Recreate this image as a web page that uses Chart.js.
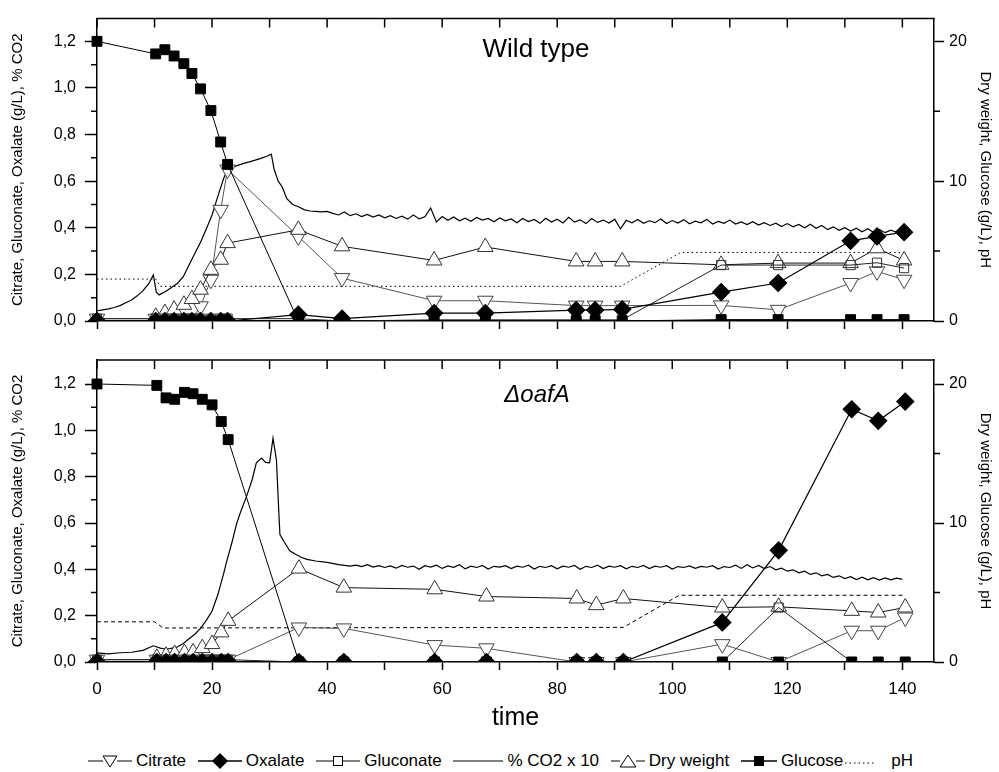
<!DOCTYPE html>
<html>
<head>
<meta charset="utf-8">
<script src="https://cdn.jsdelivr.net/npm/chart.js@4.4.1/dist/chart.umd.min.js"></script>
<style>
  body{margin:0;background:#fff;width:999px;height:772px;overflow:hidden;position:relative;
    font-family:"Liberation Sans",Arial,sans-serif;color:#000}
  #topChart{position:absolute;left:0;top:0}
  #botChart{position:absolute;left:0;top:340px}
  #legend{position:absolute;left:88px;width:825px;top:751px;height:20px;display:flex;
    justify-content:space-between;align-items:center;font-size:17px;white-space:nowrap}
  #legend span{display:flex;align-items:center}
  #legend svg{display:block;margin-right:4px}
</style>
</head>
<body>
<canvas id="topChart" width="999" height="340"></canvas>
<canvas id="botChart" width="999" height="405"></canvas>

<div id="legend">
  <span><svg width="44" height="18"><path d="M0 9H15M29 9H44" stroke="#000"/><path d="M15 4H29L22 15Z" fill="#fff" stroke="#000"/></svg>Citrate</span>
  <span><svg width="44" height="18"><path d="M0 9H44" stroke="#000" stroke-width="1.5"/><path d="M22 1L30 9L22 17L14 9Z" fill="#000"/></svg>Oxalate</span>
  <span><svg width="44" height="18"><path d="M0 9H17M27 9H44" stroke="#000"/><rect x="17.5" y="4.5" width="9" height="9" fill="#fff" stroke="#000"/></svg>Gluconate</span>
  <span><svg width="50" height="18"><path d="M0 9H50" stroke="#000" stroke-width="1.2"/></svg>% CO2 x 10</span>
  <span><svg width="34" height="18"><path d="M0 9H9M25 9H34" stroke="#000"/><path d="M9 15H25L17 3Z" fill="#fff" stroke="#000"/></svg>Dry weight</span>
  <span><svg width="36" height="18"><path d="M0 9H36" stroke="#000" stroke-width="1.5"/><rect x="13" y="4" width="10" height="10" fill="#000"/></svg>Glucose<svg width="40" height="18" style="margin:0 8px 0 0"><path d="M2 11H32" stroke="#000" stroke-dasharray="1.5 3"/></svg>pH</span>
</div>

<script>
/* ---- tick labels ---- */
const timeTicks = [0, 10, 20, 30, 40, 50, 60, 70, 80, 90, 100, 110, 120, 130, 140];
const leftTicks = [0, 0.2, 0.4, 0.6, 0.8, 1.0, 1.2];
const leftMinor = [0.1, 0.3, 0.5, 0.7, 0.9, 1.1];
const rightTicks = [0, 10, 20];
const rightMinor = [5, 15];

/* ---- Wild type (top) : sampling times in h ---- */
const wtTime = [0, 10.2, 11.8, 13.4, 15.1, 16.5, 18.0, 19.8, 21.5, 22.7, 35.0, 42.6, 58.6, 67.5, 83.3, 86.6, 91.3, 108.5, 118.4, 131.0, 135.6, 140.3];
const wtCitrate = [0.01, 0.01, 0.01, 0.01, 0.01, 0.01, 0.063, 0.177, 0.477, 0.65, 0.363, 0.184, 0.087, 0.087, 0.066, 0.066, 0.066, 0.067, 0.048, 0.163, 0.213, 0.177];
const wtOxalate = [0, 0, 0, 0, 0, 0, 0, 0, 0, 0, 0.027, 0.01, 0.034, 0.034, 0.047, 0.047, 0.05, 0.124, 0.163, 0.344, 0.363, 0.381];
const wtGluconate = [0.01, 0.01, 0.01, 0.01, 0.01, 0.01, 0.01, 0.01, 0.01, 0.01, 0.01, 0, 0.005, 0.005, 0.005, 0.005, 0.005, 0.24, 0.24, 0.24, 0.25, 0.227];
const wtDryWeight = [null, 0.3, 0.57, 0.81, 1.16, 1.57, 2.24, 3.66, 4.38, 5.57, 6.52, 5.34, 4.33, 5.29, 4.26, 4.26, 4.26, 4.02, 4.14, 4.14, 5.2, 4.33];
const wtGlucose = [20.0, 19.1, 19.4, 18.95, 18.4, 17.7, 16.6, 15.05, 12.8, 11.2, 0, 0, 0, 0, 0, 0, 0, 0.1, 0.1, 0.1, 0.1, 0.1];
const wtPhTime = [0, 10.2, 11.0, 91.0, 101.5, 140.3];
const wtPh = [3.0, 3.0, 2.48, 2.48, 4.9, 4.9];

// % CO2 x 10, online signal
const wtCo2EarlyTime = [0, 1, 2, 3, 4, 5, 6, 7, 8, 9, 9.8, 10.3, 10.8, 12, 13, 14, 15, 16, 17, 18, 19, 20, 21, 22, 22.7, 23.5, 24.5, 25.5, 26.5, 27.5, 28.5, 29.5, 30.3, 30.8, 31.5, 32.2, 33, 34, 35, 36, 37, 38, 39, 40];
const wtCo2Early = [0.044, 0.048, 0.052, 0.058, 0.066, 0.078, 0.09, 0.108, 0.13, 0.16, 0.198, 0.125, 0.112, 0.128, 0.145, 0.162, 0.19, 0.24, 0.29, 0.338, 0.395, 0.455, 0.535, 0.61, 0.65, 0.66, 0.668, 0.676, 0.683, 0.69, 0.698, 0.707, 0.716, 0.65, 0.6, 0.575, 0.525, 0.5, 0.49, 0.478, 0.472, 0.47, 0.468, 0.47];
const wtCo2LateStart = 41;   // one reading per hour from here
const wtCo2Late = [
  0.462, 0.455, 0.468, 0.452, 0.460, 0.448, 0.457, 0.446, 0.455, 0.443,
  0.452, 0.440, 0.450, 0.437, 0.455, 0.438, 0.447, 0.485, 0.425, 0.448,
  0.432, 0.446, 0.430, 0.441, 0.428, 0.444, 0.433, 0.440, 0.426, 0.442,
  0.430, 0.438, 0.422, 0.440, 0.427, 0.436, 0.419, 0.441, 0.425, 0.437,
  0.421, 0.445, 0.424, 0.434, 0.418, 0.440, 0.423, 0.433, 0.420, 0.437,
  0.395, 0.432, 0.421, 0.436, 0.419, 0.430, 0.422, 0.438, 0.418, 0.431,
  0.420, 0.435, 0.417, 0.428, 0.421, 0.436, 0.416, 0.427, 0.419, 0.433,
  0.416, 0.425, 0.414, 0.426, 0.412, 0.422, 0.410, 0.420, 0.405, 0.418,
  0.404, 0.414, 0.400, 0.415, 0.398, 0.410, 0.392, 0.404, 0.389, 0.400,
  0.386, 0.398, 0.383, 0.396, 0.380, 0.393, 0.379, 0.390, 0.381, 0.385
];

/* ---- delta oafA (bottom) ---- */
const koTime = [0, 10.4, 12.0, 13.5, 15.2, 16.7, 18.3, 20.0, 21.6, 22.8, 35.1, 42.9, 58.7, 67.7, 83.4, 86.8, 91.5, 108.7, 118.5, 131.2, 135.8, 140.5];
const koCitrate = [0.01, 0.01, 0.01, 0.01, 0.01, 0.01, 0.01, 0.01, 0.01, 0.01, 0.149, 0.145, 0.073, 0.059, 0, 0, 0, 0.077, 0, 0.135, 0.135, 0.192];
const koOxalate = [0, 0, 0, 0, 0, 0, 0, 0, 0, 0, 0, 0, 0, 0, 0, 0, 0, 0.171, 0.482, 1.091, 1.041, 1.124];
const koGluconate = [0.01, 0.01, 0.01, 0.01, 0.01, 0.01, 0.01, 0.01, 0.01, 0.01, 0, 0, 0, 0, 0, 0, 0, 0, 0.235, 0, 0, 0];
const koDryWeight = [null, 0.3, 0.45, 0.57, 0.65, 0.69, 1.0, 1.29, 2.13, 2.96, 6.72, 5.35, 5.23, 4.71, 4.57, 4.09, 4.57, 3.92, 3.97, 3.68, 3.56, 3.92];
const koGlucose = [20.0, 19.9, 19.0, 18.9, 19.4, 19.3, 18.9, 18.5, 17.3, 16.0, 0, 0, 0, 0, 0, 0, 0, 0, 0, 0, 0, 0];
const koPhTime = [0, 10.0, 11.5, 91.5, 101.2, 140.3];
const koPh = [2.89, 2.89, 2.45, 2.49, 4.8, 4.8];

const koCo2EarlyTime = [0, 2, 4, 6, 8, 9.8, 11, 12, 13.8, 15, 16, 17, 18, 19, 20, 21, 22, 22.5, 23.5, 24.3, 25, 26, 27, 27.7, 28.6, 29.3, 30, 30.6, 31.2, 31.6, 31.8, 32.5, 33.5, 34.5, 35.5, 36.5, 38, 40, 42, 44];
const koCo2Early = [0.039, 0.035, 0.04, 0.042, 0.05, 0.07, 0.06, 0.055, 0.063, 0.08, 0.1, 0.12, 0.145, 0.18, 0.22, 0.29, 0.38, 0.43, 0.52, 0.6, 0.65, 0.715, 0.79, 0.86, 0.88, 0.862, 0.86, 0.966, 0.87, 0.65, 0.55, 0.52, 0.48, 0.465, 0.452, 0.443, 0.436, 0.43, 0.42, 0.414];
const koCo2LateStart = 45;
const koCo2Late = [
  0.418, 0.412, 0.420, 0.410, 0.416, 0.408, 0.415, 0.405, 0.417, 0.409,
  0.414, 0.400, 0.416, 0.410, 0.418, 0.404, 0.415, 0.409, 0.420, 0.402,
  0.414, 0.408, 0.417, 0.401, 0.413, 0.410, 0.416, 0.403, 0.414, 0.409,
  0.418, 0.401, 0.413, 0.408, 0.416, 0.402, 0.414, 0.409, 0.417, 0.400,
  0.413, 0.408, 0.418, 0.403, 0.414, 0.409, 0.416, 0.402, 0.413, 0.408,
  0.417, 0.403, 0.414, 0.409, 0.416, 0.401, 0.412, 0.408, 0.415, 0.404,
  0.413, 0.409, 0.416, 0.401, 0.412, 0.408, 0.418, 0.404, 0.420, 0.406,
  0.417, 0.403, 0.412, 0.398, 0.405, 0.392, 0.398, 0.385, 0.392, 0.378,
  0.385, 0.372, 0.378, 0.365, 0.372, 0.360, 0.368, 0.356, 0.366, 0.355,
  0.364, 0.354, 0.363, 0.355, 0.362, 0.357
];

/* ---- helpers ---- */
const RIGHT_PER_LEFT = 50 / 3;   // right axis 0..20 sits on left 0..1.2

function pts(xs, ys){
  return xs.map((x, i) => ({x: x, y: ys[i]}));
}

function co2Points(earlyT, earlyV, start, late){
  const out = pts(earlyT, earlyV);
  late.forEach((v, i) => out.push({x: start + i, y: v}));
  return out;
}

Chart.defaults.font.family = '"Liberation Sans", Arial, sans-serif';
Chart.defaults.color = '#000';

const framePlugin = {
  id: 'frame',
  afterDraw(chart, args, opts){
    const {ctx, chartArea: a, scales} = chart;
    ctx.save();
    ctx.strokeStyle = '#000';
    ctx.lineWidth = 1.5;
    ctx.beginPath();
    ctx.moveTo(a.left - 0.75, a.top);
    ctx.lineTo(a.right + 0.75, a.top);
    timeTicks.forEach(v => {
      const px = scales.x.getPixelForValue(v);
      ctx.moveTo(px, a.top);
      ctx.lineTo(px, a.top + 9);
    });
    leftMinor.forEach(v => {
      const py = scales.y.getPixelForValue(v);
      ctx.moveTo(a.left, py);
      ctx.lineTo(a.left - 6, py);
    });
    rightMinor.forEach(v => {
      const py = scales.y1.getPixelForValue(v);
      ctx.moveTo(a.right, py);
      ctx.lineTo(a.right + 6, py);
    });
    ctx.stroke();

    ctx.fillStyle = '#000';
    ctx.font = opts.font;
    ctx.textAlign = 'center';
    ctx.textBaseline = 'middle';
    ctx.fillText(opts.text, opts.x, opts.y);
    ctx.restore();
  }
};

function makePanel(id, d){

  const pointClip = {left: 12, top: 12, right: 12, bottom: 0};

  return new Chart(document.getElementById(id), {

    type: 'line',

    data: {
      datasets: [
        {label: 'Oxalate', data: pts(d.time, d.oxalate), yAxisID: 'y',
          borderColor: '#000', borderWidth: 1.2,
          pointStyle: 'rectRot', pointRadius: 8.5,
          pointBackgroundColor: '#000', pointBorderColor: '#000', clip: pointClip},
        {label: 'Glucose', data: pts(d.time, d.glucose), yAxisID: 'y1',
          borderColor: '#000', borderWidth: 1,
          pointStyle: 'rect', pointRadius: 7,
          pointBackgroundColor: '#000', pointBorderColor: '#000', clip: pointClip},
        {label: 'Gluconate', data: pts(d.time, d.gluconate), yAxisID: 'y',
          borderColor: '#222', borderWidth: 1,
          pointStyle: 'rect', pointRadius: 6.5, pointBorderWidth: 1,
          pointBackgroundColor: 'rgba(255,255,255,0)', pointBorderColor: '#333', clip: pointClip},
        {label: 'Dry weight', data: pts(d.time, d.dry), yAxisID: 'y1',
          borderColor: '#111', borderWidth: 1,
          pointStyle: 'triangle', pointRadius: 9, pointBorderWidth: 1,
          pointBackgroundColor: '#fff', pointBorderColor: '#333', clip: pointClip},
        {label: 'Citrate', data: pts(d.time, d.citrate), yAxisID: 'y',
          borderColor: '#555', borderWidth: 1,
          pointStyle: 'triangle', pointRotation: 180, pointRadius: 9, pointBorderWidth: 1,
          pointBackgroundColor: '#fff', pointBorderColor: '#444', clip: pointClip},
        {label: '% CO2 x 10', data: d.co2, yAxisID: 'y',
          borderColor: '#000', borderWidth: 1.2, pointRadius: 0},
        {label: 'pH', data: pts(d.phTime, d.ph), yAxisID: 'y1',
          borderColor: '#000', borderWidth: 1, borderDash: d.phDash, pointRadius: 0}
      ]
    },

    options: {
      responsive: false,
      animation: false,
      events: [],
      layout: {padding: {top: d.padTop, left: 0, right: 0, bottom: 0}},
      elements: {line: {tension: 0}},
      plugins: {
        legend: {display: false},
        tooltip: {enabled: false},
        frame: {text: d.title, font: d.titleFont, x: d.titleX, y: d.titleY}
      },
      scales: {
        x: {
          type: 'linear', min: 0, max: 145.5,
          afterBuildTicks: s => { s.ticks = timeTicks.map(v => ({value: v})); },
          afterFit: s => { s.height = d.xHeight; },
          ticks: {
            display: d.showTime, autoSkip: false, maxRotation: 0, padding: 9,
            font: {size: 17},
            callback: v => (v % 20 === 0 ? String(v) : '')
          },
          grid: {drawOnChartArea: false, drawTicks: true, tickLength: 8, tickWidth: 1.5, tickColor: '#000'},
          border: {display: true, color: '#000', width: 1.5},
          title: {display: d.showTime, text: 'time', font: {size: 25}, padding: {top: 0, bottom: 12}}
        },
        y: {
          position: 'left', min: d.yMin, max: d.yMax,
          afterBuildTicks: s => { s.ticks = leftTicks.map(v => ({value: v})); },
          afterFit: s => { s.width = 97; },
          ticks: {
            font: {size: 16}, padding: 9,
            callback: v => v.toFixed(1).replace('.', ',')
          },
          grid: {drawOnChartArea: false, drawTicks: true, tickLength: 12, tickWidth: 1.5, tickColor: '#000'},
          border: {display: true, color: '#000', width: 1.5},
          title: {display: true, text: 'Citrate, Gluconate, Oxalate (g/L), % CO2',
            font: {size: 15}, padding: {top: 9, bottom: 0}}
        },
        y1: {
          position: 'right', min: d.yMin * RIGHT_PER_LEFT, max: d.yMax * RIGHT_PER_LEFT,
          afterBuildTicks: s => { s.ticks = rightTicks.map(v => ({value: v})); },
          afterFit: s => { s.width = 65; },
          ticks: {font: {size: 16}, padding: 5},
          grid: {drawOnChartArea: false, drawTicks: true, tickLength: 10, tickWidth: 1.5, tickColor: '#000'},
          border: {display: true, color: '#000', width: 1.5},
          title: {display: true, text: 'Dry weight, Glucose (g/L), pH',
            font: {size: 15}, padding: {top: 5, bottom: 0}}
        }
      }
    },

    plugins: [framePlugin]

  });

}

makePanel('topChart', {
  time: wtTime, citrate: wtCitrate, oxalate: wtOxalate, gluconate: wtGluconate,
  dry: wtDryWeight, glucose: wtGlucose,
  phTime: wtPhTime, ph: wtPh, phDash: [1.5, 3],
  co2: co2Points(wtCo2EarlyTime, wtCo2Early, wtCo2LateStart, wtCo2Late),
  yMin: 0, yMax: 1.2975, padTop: 15, xHeight: 19, showTime: false,
  title: 'Wild type', titleFont: '26px "Liberation Sans", Arial, sans-serif', titleX: 536, titleY: 50
});

makePanel('botChart', {
  time: koTime, citrate: koCitrate, oxalate: koOxalate, gluconate: koGluconate,
  dry: koDryWeight, glucose: koGlucose,
  phTime: koPhTime, ph: koPh, phDash: [4, 3],
  co2: co2Points(koCo2EarlyTime, koCo2Early, koCo2LateStart, koCo2Late),
  yMin: 0, yMax: 1.3036, padTop: 20, xHeight: 83, showTime: true,
  title: '\u0394oafA', titleFont: 'italic 24px "Liberation Sans", Arial, sans-serif', titleX: 537, titleY: 55
});
</script>
</body>
</html>
